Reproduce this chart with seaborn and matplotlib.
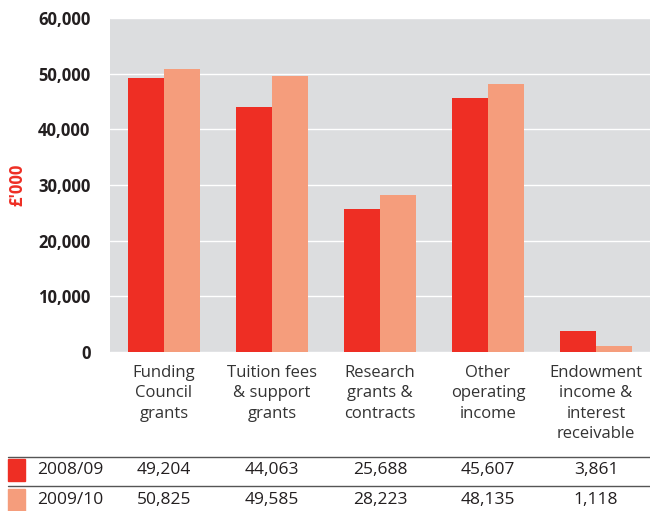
import matplotlib
matplotlib.use("Agg")
import matplotlib.pyplot as plt
import matplotlib.transforms as mtransforms
from matplotlib.lines import Line2D
from matplotlib.patches import Rectangle
import pandas as pd
import seaborn as sns

categories = ["Funding\nCouncil\ngrants", "Tuition fees\n& support\ngrants",
              "Research\ngrants &\ncontracts", "Other\noperating\nincome",
              "Endowment\nincome &\ninterest\nreceivable"]
years = ["2008/09", "2009/10"]
values_0809 = [49204, 44063, 25688, 45607, 3861]
values_0910 = [50825, 49585, 28223, 48135, 1118]
yticks = [0, 10000, 20000, 30000, 40000, 50000, 60000]
colors = ["#EE2E24", "#F59D7C"]

df = pd.DataFrame({
    "category": categories * 2,
    "year": [years[0]] * 5 + [years[1]] * 5,
    "value": values_0809 + values_0910,
})

sns.set_theme(style="white")
plt.rcParams["font.family"] = ["Open Sans", "DejaVu Sans"]

fig = plt.figure(figsize=(6.5, 5.11), dpi=100)
ax = fig.add_axes([0.169, 0.311, 0.831, 0.654])
ax.set_facecolor("#DCDDDF")

sns.barplot(data=df, x="category", y="value", hue="year", palette=colors,
            width=0.667, saturation=1, ax=ax, legend=False, zorder=3,
            linewidth=0, edgecolor="none")

ax.set_ylim(0, 60000)
ax.set_xlim(-0.5, 4.5)
ax.set_yticks(yticks)
ax.set_yticklabels([f"{v:,}" for v in yticks], fontsize=12, fontweight="bold",
                   color="#231F20")
ax.yaxis.grid(True, color="white", linewidth=1.0, zorder=1)
ax.set_axisbelow(True)
ax.tick_params(axis="y", length=0, pad=14)
ax.tick_params(axis="x", length=0, pad=9)
ax.set_xticks(range(len(categories)))
ax.set_xticklabels(categories, fontsize=12, color="#333333", linespacing=1.38,
                   va="top")
ax.set_xlabel("")
ax.set_ylabel("£'000", fontsize=12, fontweight="bold", color="#EE2E24")
ax.yaxis.set_label_coords(-0.155, 0.5)
for s in ax.spines.values():
    s.set_visible(False)

# data table beneath the chart
trans = mtransforms.blended_transform_factory(ax.transData, fig.transFigure)
row_y = [1 - 470 / 511, 1 - 500 / 511]
for yf in [1 - 457 / 511, 1 - 486 / 511]:
    fig.add_artist(Line2D([8 / 650, 1.0], [yf, yf], transform=fig.transFigure,
                          color="#555555", linewidth=1.0))
for r, (yr, vals, c) in enumerate(zip(years, [values_0809, values_0910], colors)):
    fig.add_artist(Rectangle((8 / 650, row_y[r] - 11 / 511), 17 / 650, 22 / 511,
                             transform=fig.transFigure, color=c))
    fig.text(37 / 650, row_y[r], yr, fontsize=12.5, color="#231F20",
             va="center", ha="left")
    for i, v in enumerate(vals):
        ax.text(i, row_y[r], f"{v:,}", transform=trans, fontsize=12.5,
                color="#231F20", va="center", ha="center", clip_on=False)

fig.savefig("out.png", dpi=100)
